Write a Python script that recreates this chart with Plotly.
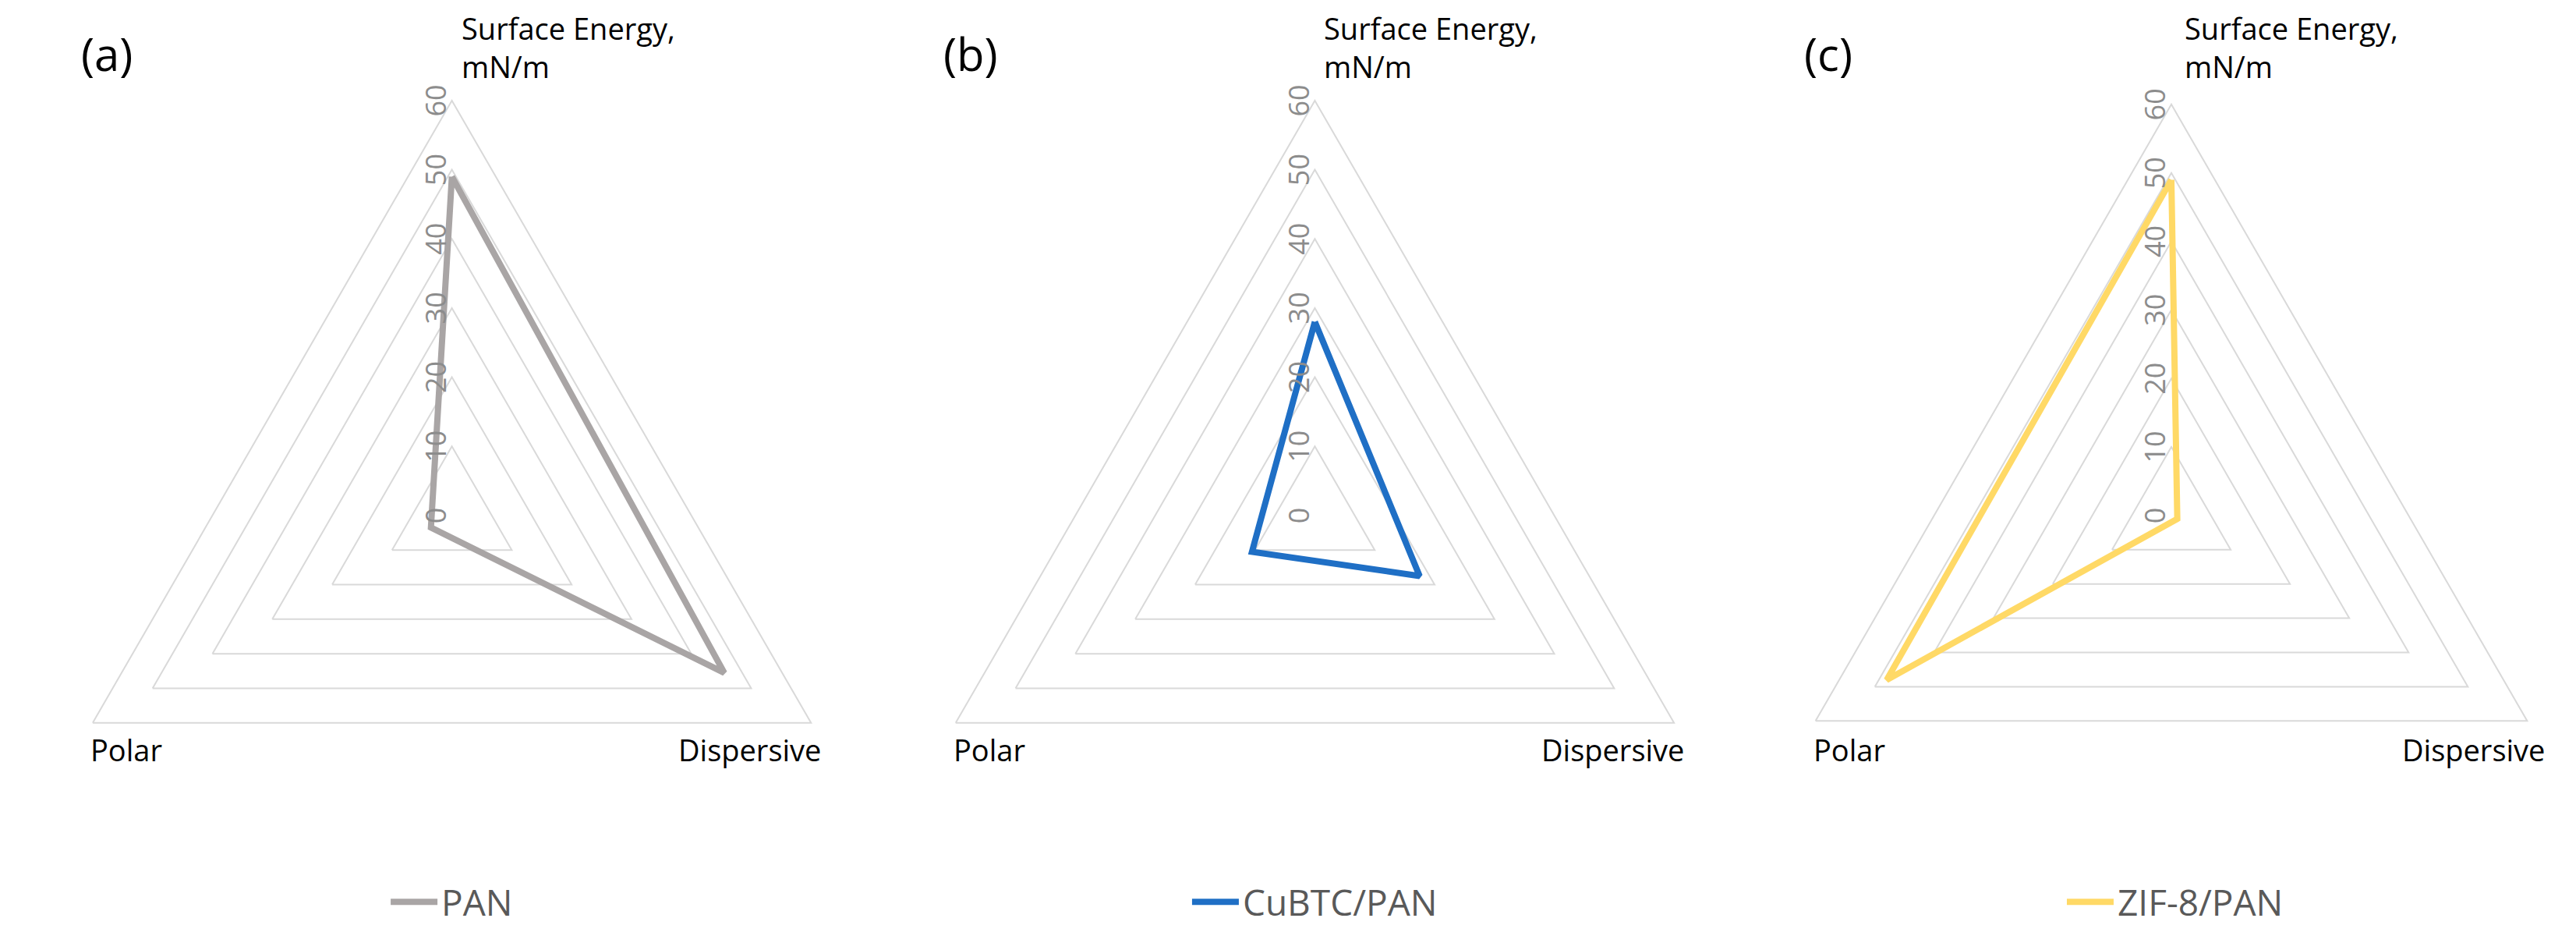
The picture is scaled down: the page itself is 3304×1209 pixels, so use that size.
import plotly.graph_objects as go

categories = ["Surface Energy", "Dispersive", "Polar"]
series_names = ["PAN", "CuBTC/PAN", "ZIF-8/PAN"]
pan_values = [49, 45.5, 3.5]
cubtc_values = [28, 17.5, 10.5]
zif_values = [49, 1, 48]
colors = ["#A9A5A5", "#1F6FC5", "#FFD966"]
panel_labels = ["(a)", "(b)", "(c)"]
radial_ticks = [0, 10, 20, 30, 40, 50, 60]

all_values = [pan_values, cubtc_values, zif_values]
W, H = 3304, 1209
ydom = [0.02, 0.90]
size = (ydom[1] - ydom[0]) * H / W
centers = [0.173, 0.508, 0.842]

fig = go.Figure()
anns = []
for i in range(3):
    pname = "polar" if i == 0 else f"polar{i+1}"
    lname = "legend" if i == 0 else f"legend{i+1}"
    v = all_values[i]
    fig.add_trace(go.Scatterpolar(
        r=v + [v[0]], theta=categories + [categories[0]], mode="lines",
        line=dict(color=colors[i], width=8), name=series_names[i],
        subplot=pname, legend=lname, showlegend=True))
    c = centers[i]
    dom = dict(x=[max(0, c - size / 2), min(1, c + size / 2)], y=ydom)
    fig.update_layout(**{
        pname: dict(
            domain=dom, gridshape="linear", bgcolor="white",
            angularaxis=dict(direction="clockwise", rotation=90, showgrid=False,
                             showticklabels=False, ticks="", linecolor="#D9D9D9", linewidth=2),
            radialaxis=dict(range=[0, 60], tickvals=radial_ticks, angle=90, side="counterclockwise",
                            tickangle=0, showline=False, ticks="", gridcolor="#D9D9D9", gridwidth=2,
                            tickfont=dict(size=36, color="#8C8C8C", family="Open Sans")),
        ),
        lname: dict(x=c, xanchor="center", y=0.02, yanchor="bottom", orientation="h",
                    itemwidth=60, font=dict(size=46, color="#595959", family="Open Sans"),
                    bgcolor="rgba(0,0,0,0)"),
    })
    cx_px = c * W
    R = size * W / 2
    cy = ydom[0] + (ydom[1] - ydom[0]) / 2
    anns.append(dict(text=panel_labels[i], x=(cx_px - 478) / W, y=0.95, xref="paper", yref="paper",
                     xanchor="left", yanchor="middle", showarrow=False,
                     font=dict(size=58, color="black", family="Open Sans")))
    anns.append(dict(text="Surface Energy,<br>mN/m", x=(cx_px + 10) / W, y=1.0, xref="paper", yref="paper",
                     xanchor="left", yanchor="top", align="left", showarrow=False,
                     font=dict(size=38, color="black", family="Open Sans")))
    ybot = cy - (R / 2) / H - 0.005
    anns.append(dict(text="Polar", x=(cx_px - R * 0.866 - 5) / W, y=ybot, xref="paper", yref="paper",
                     xanchor="left", yanchor="top", showarrow=False,
                     font=dict(size=38, color="black", family="Open Sans")))
    anns.append(dict(text="Dispersive", x=(cx_px + R * 0.866 + 15) / W, y=ybot, xref="paper", yref="paper",
                     xanchor="right", yanchor="top", showarrow=False,
                     font=dict(size=38, color="black", family="Open Sans")))

fig.update_layout(width=W, height=H, margin=dict(l=0, r=0, t=0, b=0),
                  paper_bgcolor="white", annotations=anns)
fig.write_html("out.html")
